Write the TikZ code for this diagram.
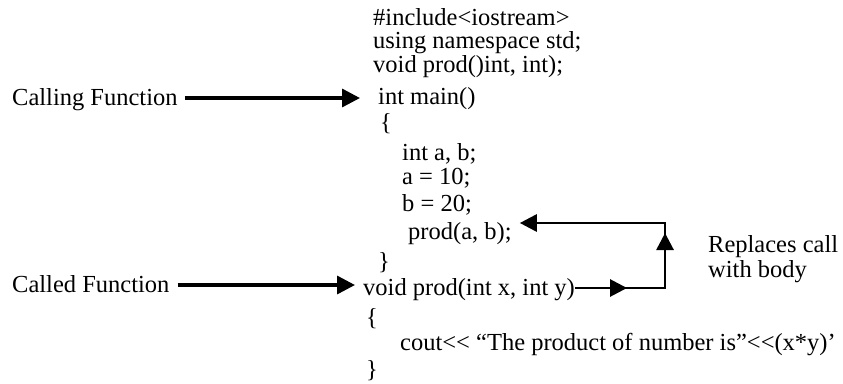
\documentclass[tikz,border=0pt]{standalone}
\usepackage{fontspec}
\setmainfont{Liberation Serif}
\usetikzlibrary{arrows.meta,calc}
\begin{document}
\begin{tikzpicture}[x=1pt,y=-1pt,
  code/.style={anchor=base west, inner sep=0pt, font=\fontsize{24.5}{28}\selectfont},
  conn/.style={line width=2.8pt, draw=black},
  arr/.style={conn, -{Triangle[length=17pt,width=17pt]}},
  bigarr/.style={line width=3.4pt, draw=black, -{Triangle[length=18pt,width=18pt]}}]
\useasboundingbox (0,0) rectangle (843,383);
% code lines
\node[code] (inc)    at (373,25)  {\#include<iostream>};
\node[code] (ns)     at (373,48)  {using namespace std;};
\node[code] (proto)  at (373,72)  {void prod()int, int);};
\node[code] (main)   at (378,104) {int main()};
\node[code] (ob1)    at (380,130) {\{};
\node[code] (decl)   at (402,160) {int a, b;};
\node[code] (asa)    at (402,184) {a = 10;};
\node[code] (asb)    at (402,211) {b = 20;};
\node[code] (call)   at (408,239) {prod(a, b);};
\node[code] (cb1)    at (378,269) {\}};
\node[code] (callee) at (363,295) {void prod(int x, int y)};
\node[code] (ob2)    at (366,325) {\{};
\node[code] (cout)   at (400,350) {cout<\kern0pt< “The product of number is”<\kern0pt<(x*y)’};
\node[code] (cb2)    at (366,377) {\}};
% labels
\node[code] (calling) at (12,105) {Calling Function};
\node[code] (called)  at (12,292) {Called Function};
\node[code] (rep1)    at (708,252) {Replaces call};
\node[code] (rep2)    at (708,277) {with body};
% left arrows
\coordinate (a1s) at ($(calling.base east)+(7,-7)$);
\coordinate (a1e) at ($(main.base west)+(-18,-7)$);
\draw[bigarr] (a1s) -- (a1s -| a1e);
\coordinate (a2s) at ($(called.base east)+(8,-7)$);
\coordinate (a2e) at ($(callee.base west)+(-8,-7)$);
\draw[bigarr] (a2s) -- (a2s -| a2e);
% loop
\coordinate (s)  at ($(callee.base east)+(0,-7)$);
\coordinate (br) at ($(s)+(90,0)$);
\coordinate (cp) at ($(call.base east)+(8,-16)$);
\coordinate (tr) at (br |- cp);
\draw[arr] (s) -- (br) -- (tr) -- (cp);
\draw[arr] (s) -- ($(s)+(52,0)$);
\draw[arr] (br) -- ($(br)+(0,-55)$);
\end{tikzpicture}
\end{document}
